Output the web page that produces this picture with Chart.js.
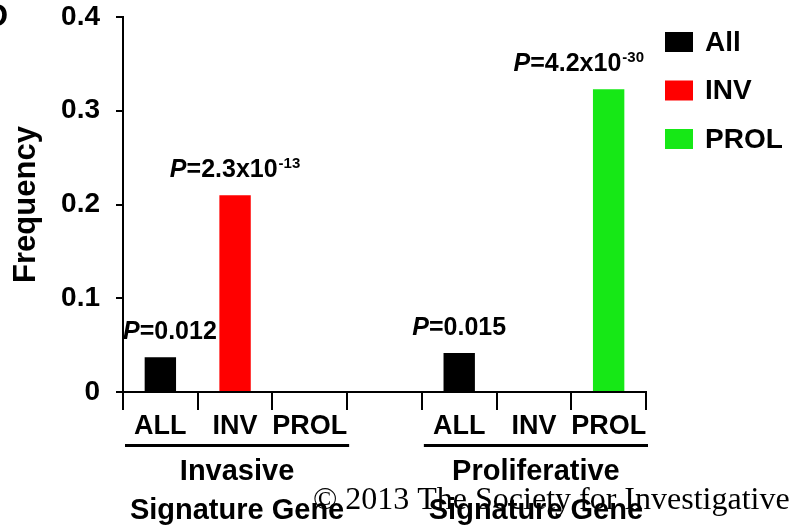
<!DOCTYPE html>
<html>
<head>
<meta charset="utf-8">
<script src="https://cdn.jsdelivr.net/npm/chart.js@4"></script>
<style>
  body { margin: 0; background: #fff; }
  canvas { display: block; }
</style>
</head>
<body>
<canvas id="myChart" width="796" height="528"></canvas>
<script>
// categories along the x axis (blank slot separates the two groups)
const categories = ['ALL', 'INV', 'PROL', '', 'ALL', 'INV', 'PROL']
const allValues = [0.037, null, null, null, 0.0415, null, null]
const invValues = [null, 0.21, null, null, null, 0, null]
const prolValues = [null, null, 0, null, null, null, 0.323]

const yTicks = [0, 0.1, 0.2, 0.3, 0.4]

// group headings under the axis
const groupNames = ['Invasive', 'Proliferative']
const groupFirst = [0, 4]
const groupLast = [2, 6]
const groupSub = 'Signature Gene'

// P values written above bars
const pIndex = [0, 1, 4, 6]
const pMain = ['=0.012', '=2.3x10', '=0.015', '=4.2x10']
const pExp = ['', '-13', '', '-30']

const FONT = '"Liberation Sans", Arial, sans-serif'

Chart.defaults.font.family = FONT
Chart.defaults.color = '#000'

const extras = {
  id: 'extras',
  afterDatasetsDraw(chart) {
    const ctx = chart.ctx
    const xs = chart.scales.x
    const ys = chart.scales.y
    const area = chart.chartArea
    const half = (xs.getPixelForValue(1) - xs.getPixelForValue(0)) / 2
    ctx.save()
    ctx.fillStyle = '#000'
    ctx.textBaseline = 'alphabetic'

    // p value labels
    for (let i = 0; i < pIndex.length; i++) {
      const idx = pIndex[i]
      let v = 0
      chart.data.datasets.forEach(d => { if (d.data[idx] != null && d.data[idx] > v) v = d.data[idx] })
      ctx.font = 'italic bold 25px ' + FONT
      const wP = ctx.measureText('P').width
      ctx.font = 'bold 25px ' + FONT
      const wM = ctx.measureText(pMain[i]).width
      ctx.font = 'bold 15px ' + FONT
      const wE = pExp[i] ? ctx.measureText(pExp[i]).width + 1 : 0
      const total = wP + wM + wE
      let x = xs.getPixelForValue(idx) - total / 2
      if (x < area.left) x = area.left
      if (x + total > area.right - 2) x = area.right - 2 - total
      const y = ys.getPixelForValue(v) - 18
      ctx.textAlign = 'left'
      ctx.font = 'italic bold 25px ' + FONT
      ctx.fillText('P', x, y)
      ctx.font = 'bold 25px ' + FONT
      ctx.fillText(pMain[i], x + wP, y)
      if (pExp[i]) {
        ctx.font = 'bold 15px ' + FONT
        ctx.fillText(pExp[i], x + wP + wM + 1, y - 9)
      }
    }

    // group underline + names
    for (let g = 0; g < groupNames.length; g++) {
      const x1 = xs.getPixelForValue(groupFirst[g]) - half + 2
      const x2 = xs.getPixelForValue(groupLast[g]) + half + 2
      ctx.fillRect(x1, 444, x2 - x1, 3)
      const cx = (x1 + x2) / 2
      ctx.textAlign = 'center'
      ctx.textBaseline = 'middle'
      ctx.font = 'bold 29px ' + FONT
      ctx.fillText(groupNames[g], cx, 472)
      ctx.fillText(groupSub, cx, 511)
      ctx.textBaseline = 'alphabetic'
    }

    // legend
    chart.data.datasets.forEach((d, i) => {
      const yc = 42 + i * 48.5
      ctx.fillStyle = d.backgroundColor
      ctx.fillRect(area.right + 19, yc - 10, 28, 20)
      ctx.fillStyle = '#000'
      ctx.textAlign = 'left'
      ctx.textBaseline = 'middle'
      ctx.font = 'bold 28px ' + FONT
      ctx.fillText(d.label, area.right + 59, yc + 1)
    })

    // panel letter, cut off at the left edge
    ctx.textAlign = 'right'
    ctx.textBaseline = 'alphabetic'
    ctx.font = 'bold 32px ' + FONT
    ctx.fillText('D', 8, 26)

    // copyright watermark
    ctx.textAlign = 'left'
    ctx.font = '32px "Liberation Serif", "Times New Roman", serif'
    ctx.fillText('\u00a9 2013 The Society for Investigative', 313, 509)
    ctx.restore()
  }
}

let ctx = document.getElementById('myChart').getContext('2d')
new Chart(ctx, {
  type: 'bar',
  data: {
    labels: categories,
    datasets: [
      { label: 'All', data: allValues, backgroundColor: '#000000' },
      { label: 'INV', data: invValues, backgroundColor: '#ff0000' },
      { label: 'PROL', data: prolValues, backgroundColor: '#16e816' }
    ]
  },
  options: {
    responsive: false,
    animation: false,
    layout: { padding: { top: 0, right: 150, bottom: 0, left: 0 } },
    datasets: { bar: { barPercentage: 0.42, categoryPercentage: 1 } },
    plugins: {
      legend: { display: false },
      tooltip: { enabled: false }
    },
    scales: {
      x: {
        stacked: true,
        grid: { offset: true, drawOnChartArea: false, tickLength: 18, color: '#000', lineWidth: 2 },
        border: { color: '#000', width: 2 },
        ticks: { color: '#000', font: { size: 27, weight: 'bold' }, padding: 0, maxRotation: 0, autoSkip: false },
        afterFit: function (scale) { scale.height = 136 }
      },
      y: {
        stacked: true,
        min: 0,
        max: 0.4,
        afterBuildTicks: function (scale) { scale.ticks = yTicks.map(v => ({ value: v })) },
        grid: { drawOnChartArea: false, tickLength: 7, color: '#000', lineWidth: 2 },
        border: { color: '#000', width: 2 },
        ticks: {
          color: '#000',
          font: { size: 28, weight: 'bold' },
          padding: 16,
          callback: v => v === 0 ? '0' : v.toFixed(1)
        },
        title: {
          display: true,
          text: 'Frequency',
          color: '#000',
          font: { size: 31, weight: 'bold' },
          padding: { top: 8, bottom: 0 }
        },
        afterFit: function (scale) {
          scale.width = 123
          scale.paddingTop = 17
          scale.paddingBottom = 0
        }
      }
    }
  },
  plugins: [extras]
})
</script>
</body>
</html>
